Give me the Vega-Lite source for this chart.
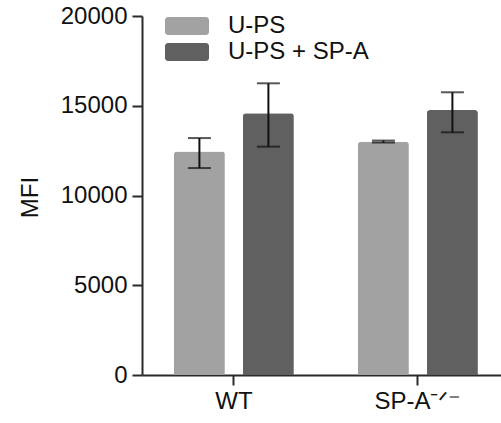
{
  "$schema": "https://vega.github.io/schema/vega-lite/v6.json",
  "autosize": {"type": "none"},
  "padding": {"left": 142, "top": 16, "right": 0, "bottom": 48},
  "width": 359,
  "height": 359,
  "config": {
    "view": {"stroke": null},
    "font": "Liberation Sans",
    "axis": {
      "grid": false,
      "domainColor": "#2a2a2a",
      "domainWidth": 2,
      "tickColor": "#2a2a2a",
      "tickWidth": 2,
      "tickSize": 10,
      "labelColor": "#111111",
      "labelFont": "Liberation Sans",
      "titleFont": "Liberation Sans",
      "titleColor": "#111111",
      "titleFontWeight": "normal"
    }
  },
  "data": {
    "values": [
      {"genotype": "WT", "treatment": "U-PS", "mfi": 12450, "lo": 11530, "hi": 13200},
      {"genotype": "WT", "treatment": "U-PS + SP-A", "mfi": 14580, "lo": 12720, "hi": 16250},
      {"genotype": "SP-A⁻ᐟ⁻", "treatment": "U-PS", "mfi": 13000, "lo": 12950, "hi": 13060},
      {"genotype": "SP-A⁻ᐟ⁻", "treatment": "U-PS + SP-A", "mfi": 14760, "lo": 13520, "hi": 15750}
    ]
  },
  "encoding": {
    "x": {
      "field": "genotype",
      "type": "nominal",
      "sort": ["WT", "SP-A⁻ᐟ⁻"],
      "scale": {"paddingInner": 0.348, "paddingOuter": 0.1495, "align": 0.58},
      "axis": {"title": null, "labelAngle": 0, "labelFontSize": 24, "labelPadding": 4}
    },
    "xOffset": {
      "field": "treatment",
      "type": "nominal",
      "sort": ["U-PS", "U-PS + SP-A"],
      "scale": {"paddingInner": 0.261, "paddingOuter": 0}
    }
  },
  "layer": [
    {
      "mark": {"type": "bar", "cornerRadiusTopLeft": 3, "cornerRadiusTopRight": 3},
      "encoding": {
        "y": {
          "field": "mfi",
          "type": "quantitative",
          "scale": {"domain": [0, 20000], "nice": false},
          "axis": {
            "title": "MFI",
            "values": [0, 5000, 10000, 15000, 20000],
            "format": "d",
            "labelFontSize": 24,
            "labelPadding": 5,
            "titleFontSize": 24,
            "titleAngle": -90,
            "titleX": -112,
            "titleY": 181,
            "titleAlign": "center",
            "titleBaseline": "middle"
          }
        },
        "color": {
          "field": "treatment",
          "type": "nominal",
          "sort": ["U-PS", "U-PS + SP-A"],
          "scale": {"range": ["#a2a2a2", "#606060"]},
          "legend": {
            "title": null,
            "orient": "none",
            "direction": "vertical",
            "legendX": 23,
            "legendY": -3,
            "padding": 0,
            "symbolType": "M-0.864,-0.409 H0.864 A0.136,0.136 0 0 1 1,-0.273 V0.273 A0.136,0.136 0 0 1 0.864,0.409 H-0.864 A0.136,0.136 0 0 1 -1,0.273 V-0.273 A0.136,0.136 0 0 1 -0.864,-0.409 Z",
            "symbolSize": 1936,
            "symbolStrokeWidth": 0,
            "symbolOpacity": 1,
            "clipHeight": 26,
            "rowPadding": 0,
            "labelOffset": 19,
            "labelFontSize": 24,
            "labelColor": "#111111",
            "labelFont": "Liberation Sans"
          }
        }
      }
    },
    {
      "mark": {"type": "rule", "color": "#111111", "strokeWidth": 2},
      "encoding": {
        "y": {"field": "lo", "type": "quantitative"},
        "y2": {"field": "hi"}
      }
    },
    {
      "mark": {"type": "tick", "color": "#111111", "size": 23, "thickness": 2, "orient": "horizontal"},
      "encoding": {
        "y": {"field": "lo", "type": "quantitative"}
      }
    },
    {
      "mark": {"type": "tick", "color": "#111111", "size": 23, "thickness": 2, "orient": "horizontal"},
      "encoding": {
        "y": {"field": "hi", "type": "quantitative"}
      }
    }
  ]
}
